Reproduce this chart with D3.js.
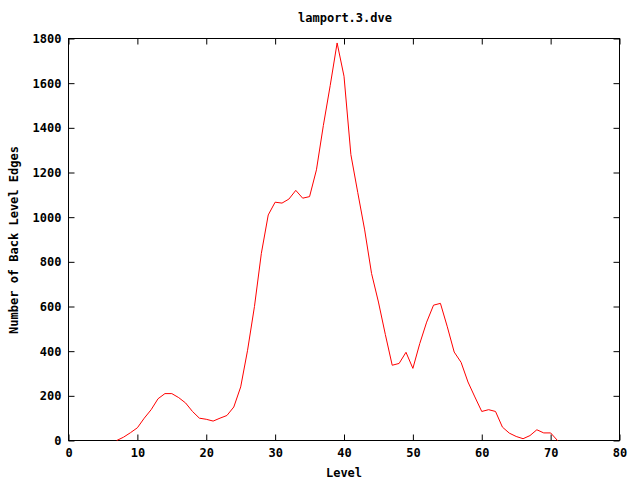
<!DOCTYPE html>
<html>
<head>
<meta charset="utf-8">
<script src="https://cdn.jsdelivr.net/npm/d3@7"></script>
<style>
html,body{margin:0;padding:0;background:#fff;}
svg text{font-family:"DejaVu Sans Mono","Liberation Mono",monospace;font-weight:bold;font-size:12px;fill:#000;}
</style>
</head>
<body>
<svg id="chart" width="640" height="480"></svg>
<script>
const title = "lamport.3.dve";
const xLabel = "Level";
const yLabel = "Number of Back Level Edges";
const levels = [7,8,9,10,11,12,13,14,15,16,17,18,19,20,21,22,23,24,25,26,27,28,29,30,31,32,33,34,35,36,37,38,39,40,41,42,43,44,45,46,47,48,49,50,51,52,53,54,55,56,57,58,59,60,61,62,63,64,65,66,67,68,69,70,71];
const edges = [0,15,35,57,100,138,187,210,210,192,168,130,100,95,87,100,112,150,240,404,600,838,1010,1067,1063,1081,1120,1085,1092,1212,1410,1590,1780,1631,1280,1110,943,748,620,475,337,345,395,323,434,530,606,614,509,396,350,262,195,130,138,130,60,33,18,8,22,48,34,34,0];
const xTicks = [0,10,20,30,40,50,60,70,80];
const yTicks = [0,200,400,600,800,1000,1200,1400,1600,1800];

const svg = d3.select("#chart");
const L = 68.5, R = 619.5, T = 38.5, B = 440.5;
const x = d3.scaleLinear().domain([0,80]).range([L,R]);
const y = d3.scaleLinear().domain([0,1800]).range([B,T]);
const tl = 6;

const g = svg.append("g");
// bottom axis
g.append("g").attr("transform",`translate(0,${B})`)
  .call(d3.axisBottom(x).tickValues(xTicks).tickSize(-tl).tickPadding(8).tickFormat(d3.format("d")))
  .call(a=>{a.select(".domain").remove();a.selectAll("text").attr("dy","0.71em");});
// top mirror
g.append("g").attr("transform",`translate(0,${T})`)
  .call(d3.axisTop(x).tickValues(xTicks).tickSize(-tl).tickFormat(""))
  .call(a=>a.select(".domain").remove());
// left axis
g.append("g").attr("transform",`translate(${L},0)`)
  .call(d3.axisLeft(y).tickValues(yTicks).tickSize(-tl).tickPadding(7).tickFormat(d3.format("d")))
  .call(a=>a.select(".domain").remove());
// right mirror
g.append("g").attr("transform",`translate(${R},0)`)
  .call(d3.axisRight(y).tickValues(yTicks).tickSize(-tl).tickFormat(""))
  .call(a=>a.select(".domain").remove());
svg.selectAll(".tick line").attr("stroke","#000");
svg.selectAll(".tick text").style("font-family",null).style("font-size",null).attr("font-family",null).attr("font-size",null);

// frame
svg.append("rect").attr("x",L).attr("y",T).attr("width",R-L).attr("height",B-T)
  .attr("fill","none").attr("stroke","#000").attr("stroke-width",1);

// line
const line = d3.line().x((d,i)=>x(levels[i])).y(d=>y(d));
svg.append("path").datum(edges).attr("d",line)
  .attr("fill","none").attr("stroke","#ff0000").attr("stroke-width",1);

// labels
svg.append("text").attr("x",345).attr("y",22).attr("text-anchor","middle").text(title);
svg.append("text").attr("x",344).attr("y",477).attr("text-anchor","middle").text(xLabel);
svg.append("text").attr("transform","translate(18,240) rotate(-90)").attr("text-anchor","middle").text(yLabel);
</script>
</body>
</html>
